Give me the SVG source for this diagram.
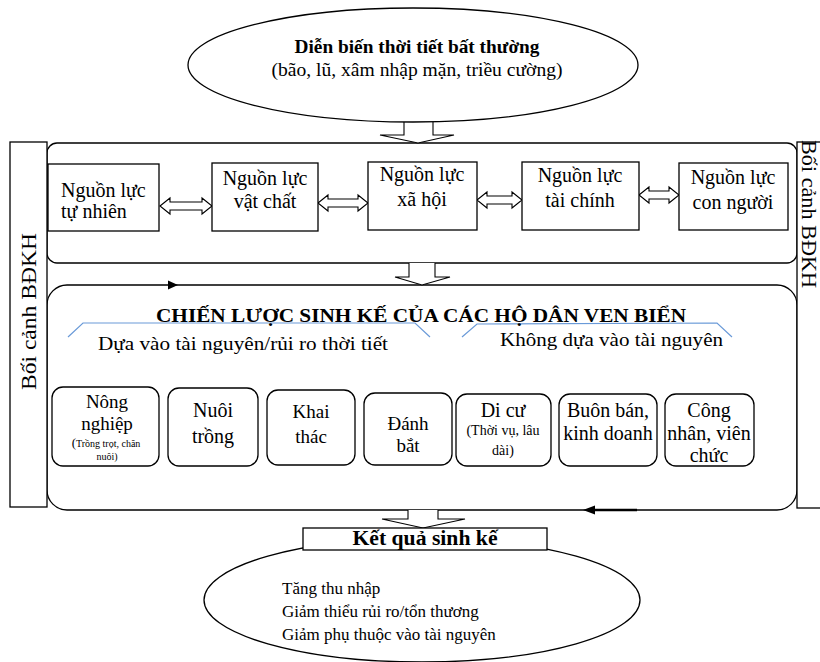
<svg xmlns="http://www.w3.org/2000/svg" width="820" height="662" viewBox="0 0 820 662">
<style>
.t{font-family:"Liberation Serif","Times New Roman",serif;fill:#000}
.b{font-weight:bold}
.box{fill:#fff;stroke:#000;stroke-width:1.3}
.rbox{fill:#fff;stroke:#000;stroke-width:1.3}
.cont{fill:none;stroke:#000;stroke-width:1.3}
.ln{fill:#fff;stroke:#000;stroke-width:1.1}
.blue{fill:none;stroke:#6a9ad8;stroke-width:1.2}
.mid{text-anchor:middle}
</style>
<rect width="820" height="662" fill="#fff"/>

<g id="containers">
  <rect class="cont" x="47" y="143" width="750" height="120" rx="10"/>
  <rect class="cont" x="47" y="285" width="750" height="225" rx="20"/>
</g>

<g id="left-bar">
  <rect class="box" x="10" y="142" width="37" height="365"/>
  <text class="t" font-size="21" transform="translate(36,390) rotate(-90)" textLength="157" lengthAdjust="spacingAndGlyphs">Bối cảnh BĐKH</text>
</g>
<g id="right-bar">
  <rect class="box" x="797" y="142" width="40" height="366"/>
  <text class="t" font-size="21" transform="translate(802,140) rotate(90)" textLength="148" lengthAdjust="spacingAndGlyphs">Bối cảnh BĐKH</text>
</g>

<g id="connectors">
  <path class="ln" d="M404,122 L404,135 L380,135 L418,143 L454,135 L433,135 L433,122"/>
  <path class="ln" d="M409,263 L409,277 L395,277 L422,285 L450,277 L435,277 L435,263"/>
  <path class="ln" d="M408,510 L408,519 L382,519 L423,528 L465,519 L438,519 L438,510"/>
  <path class="ln" d="M160,206 L170,198 L170,202 L202,202 L202,198 L212,206 L202,214 L202,210 L170,210 L170,214 Z"/>
  <path class="ln" d="M318,203 L328,195 L328,199 L358,199 L358,195 L368,203 L358,211 L358,207 L328,207 L328,211 Z"/>
  <path class="ln" d="M477,200 L487,192 L487,196 L512,196 L512,192 L522,200 L512,208 L512,204 L487,204 L487,208 Z"/>
  <path class="ln" d="M639,195 L649,187 L649,191 L669,191 L669,187 L679,195 L669,203 L669,199 L649,199 L649,203 Z"/>
  <polygon points="168,280.5 178,285 168,289.5" fill="#000"/>
  <polygon points="583,510 595,505.5 595,514.5" fill="#000"/>
  <line x1="594" y1="510" x2="637" y2="510" stroke="#000" stroke-width="2.5"/>
  <polyline class="blue" points="68,337 83,323 415,323 430,337"/>
  <polyline class="blue" points="462,337 477,324 717,323 732,337"/>
</g>

<g id="weather">
  <ellipse class="box" cx="413" cy="65" rx="225" ry="57"/>
  <text class="t b mid" x="417" y="53" font-size="18.5" textLength="245" lengthAdjust="spacingAndGlyphs">Diễn biến thời tiết bất thường</text>
  <text class="t mid" x="417" y="76" font-size="18.5" textLength="291" lengthAdjust="spacingAndGlyphs">(bão, lũ, xâm nhập mặn, triều cường)</text>
</g>

<g id="natural">
  <rect class="box" x="48" y="164" width="111" height="67"/>
  <text class="t" x="61" y="197" font-size="20">Nguồn lực</text>
  <text class="t" x="61" y="218" font-size="20">tự nhiên</text>
</g>
<g id="physical">
  <rect class="box" x="212" y="163" width="106" height="68"/>
  <text class="t mid" x="265" y="185" font-size="20">Nguồn lực</text>
  <text class="t mid" x="265" y="208" font-size="20">vật chất</text>
</g>
<g id="social">
  <rect class="box" x="368" y="162" width="109" height="68"/>
  <text class="t mid" x="422" y="181" font-size="20">Nguồn lực</text>
  <text class="t mid" x="422" y="206" font-size="20">xã hội</text>
</g>
<g id="financial">
  <rect class="box" x="522" y="162" width="117" height="68"/>
  <text class="t mid" x="580" y="182" font-size="20">Nguồn lực</text>
  <text class="t mid" x="580" y="207" font-size="20">tài chính</text>
</g>
<g id="human">
  <rect class="box" x="679" y="163" width="109" height="67"/>
  <text class="t mid" x="733" y="184" font-size="20">Nguồn lực</text>
  <text class="t mid" x="733" y="209" font-size="20">con người</text>
</g>

<g id="strategy-title">
  <text class="t b mid" x="421" y="322" font-size="19" textLength="530" lengthAdjust="spacingAndGlyphs">CHIẾN LƯỢC SINH KẾ CỦA CÁC HỘ DÂN VEN BIỂN</text>
  <text class="t" x="98" y="350" font-size="18" textLength="290" lengthAdjust="spacingAndGlyphs">Dựa vào tài nguyên/rủi ro thời tiết</text>
  <text class="t" x="500" y="346" font-size="18" textLength="223" lengthAdjust="spacingAndGlyphs">Không dựa vào tài nguyên</text>
</g>

<g id="agriculture">
  <rect class="rbox" x="52" y="387" width="107" height="79" rx="11"/>
  <text class="t mid" x="107" y="408" font-size="19">Nông</text>
  <text class="t mid" x="107" y="430" font-size="19">nghiệp</text>
  <text class="t mid" x="106" y="447" font-size="10"><tspan font-size="13">(</tspan>Trồng trọt, chăn</text>
  <text class="t mid" x="107" y="460" font-size="10">nuôi)</text>
</g>
<g id="aquaculture">
  <rect class="rbox" x="168" y="388" width="90" height="78" rx="11"/>
  <text class="t mid" x="213" y="417" font-size="20">Nuôi</text>
  <text class="t mid" x="213" y="443" font-size="20">trồng</text>
</g>
<g id="exploitation">
  <rect class="rbox" x="267" y="390" width="88" height="75" rx="11"/>
  <text class="t mid" x="311" y="418" font-size="19">Khai</text>
  <text class="t mid" x="311" y="443" font-size="19">thác</text>
</g>
<g id="fishing">
  <rect class="rbox" x="364" y="393" width="88" height="72" rx="11"/>
  <text class="t mid" x="408" y="430" font-size="19">Đánh</text>
  <text class="t mid" x="408" y="452" font-size="19">bắt</text>
</g>
<g id="migration">
  <rect class="rbox" x="456" y="394" width="95" height="72" rx="11"/>
  <text class="t mid" x="503" y="417" font-size="20">Di cư</text>
  <text class="t mid" x="503" y="435" font-size="14">(Thời vụ, lâu</text>
  <text class="t mid" x="503" y="455" font-size="14">dài)</text>
</g>
<g id="trade">
  <rect class="rbox" x="559" y="394" width="98" height="72" rx="11"/>
  <text class="t mid" x="608" y="417" font-size="20">Buôn bán,</text>
  <text class="t mid" x="608" y="440" font-size="20">kinh doanh</text>
</g>
<g id="workers">
  <rect class="rbox" x="665" y="394" width="89" height="72" rx="11"/>
  <text class="t mid" x="709" y="417" font-size="20">Công</text>
  <text class="t mid" x="709" y="440" font-size="20">nhân, viên</text>
  <text class="t mid" x="709" y="462" font-size="20">chức</text>
</g>

<g id="outcome">
  <ellipse class="box" cx="422" cy="600" rx="218" ry="62"/>
  <rect class="box" x="303" y="528" width="244" height="22"/>
  <text class="t b mid" x="425" y="545" font-size="20" textLength="145" lengthAdjust="spacingAndGlyphs">Kết quả sinh kế</text>
  <text class="t" x="282" y="594" font-size="17">Tăng thu nhập</text>
  <text class="t" x="282" y="617" font-size="17">Giảm thiểu rủi ro/tổn thương</text>
  <text class="t" x="282" y="640" font-size="17">Giảm phụ thuộc vào tài nguyên</text>
</g>
</svg>
